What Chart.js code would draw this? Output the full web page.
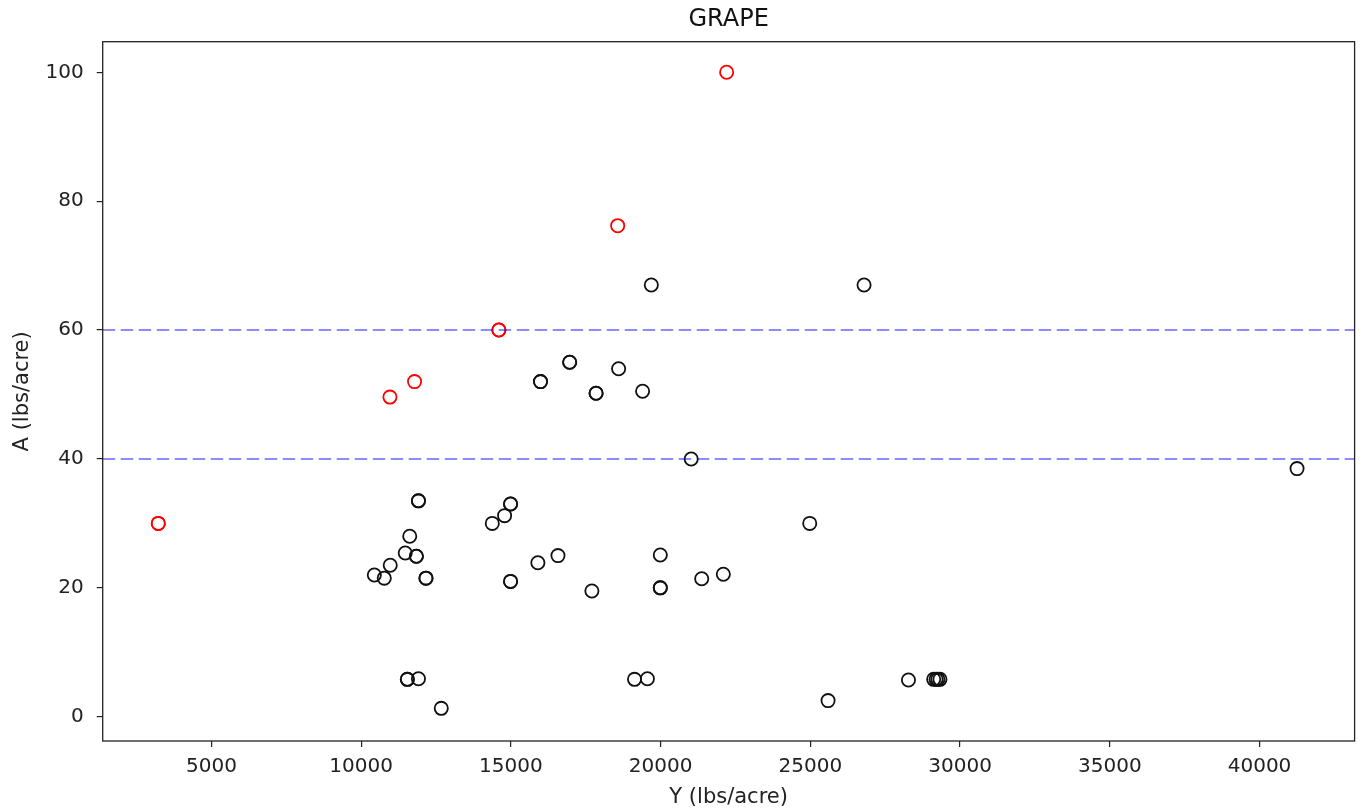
<!DOCTYPE html>
<html>
<head>
<meta charset="utf-8">
<title>GRAPE</title>
<script src="https://cdn.jsdelivr.net/npm/chart.js@4.4.1/dist/chart.umd.min.js"></script>
<style>
body{margin:0;background:#fff;}
canvas{display:block;}
</style>
</head>
<body>
<canvas id="grapeChart" width="1363" height="812"></canvas>
<script>
// Y = yield (lbs/acre), A = applied (lbs/acre)
var blackY = [15990, 15990, 16964, 16964, 18598, 17846, 17846, 19399, 19690, 26794,
              21022, 24980, 16573, 19990, 17706, 19990, 19990, 21373, 22095, 19129,
              19559, 25592, 28277, 29119, 29199, 29259, 29329, 15902, 41253, 11914,
              11914, 11623, 11473, 11844, 11844, 10972, 10441, 10772, 12165, 12165,
              11543, 11543, 11914, 12676, 14379, 14790, 14990, 14990, 14990, 14990];
var blackA = [52, 52, 55, 55, 54, 50.2, 50.2, 50.5, 67, 67,
              40, 30, 25, 25.1, 19.5, 20, 20, 21.4, 22.1, 5.8,
              5.9, 2.5, 5.7, 5.8, 5.8, 5.8, 5.8, 23.9, 38.5, 33.5,
              33.5, 28, 25.4, 24.9, 24.9, 23.5, 22, 21.5, 21.5, 21.5,
              5.8, 5.8, 5.9, 1.3, 30, 31.2, 33, 33, 21, 21];
var redY = [3226, 3226, 10962, 11784, 14600, 14600, 18567, 22205];
var redA = [30, 30, 49.6, 52, 60, 60, 76.2, 100];

var limitLines = [40, 60];
var xTicks = [5000, 10000, 15000, 20000, 25000, 30000, 35000, 40000];
var yTicks = [0, 20, 40, 60, 80, 100];
var xRange = [1370, 43175];
var yRange = [-3.77, 104.75];
var chartTitle = 'GRAPE';

function toPoints(xs, ys)
{
    var pts = [];
    for (var i = 0; i < xs.length; i++) {
        pts.push({x: xs[i], y: ys[i]});
    }
    return pts;
}

var datasets = [];
for (var k = 0; k < limitLines.length; k++) {
    datasets.push({
        type: 'line',
        data: [{x: xRange[0], y: limitLines[k]}, {x: xRange[1], y: limitLines[k]}],
        borderColor: 'rgba(0,0,255,0.6)',
        borderWidth: 1.5,
        borderDash: [12.5, 5.5],
        pointRadius: 0,
        fill: false
    });
}
datasets.push({
    data: toPoints(redY, redA),
    pointRadius: 6.6,
    pointBorderWidth: 1.8,
    pointBorderColor: '#ff0000',
    pointBackgroundColor: 'rgba(0,0,0,0)'
});
datasets.push({
    data: toPoints(blackY, blackA),
    pointRadius: 6.6,
    pointBorderWidth: 1.8,
    pointBorderColor: '#111111',
    pointBackgroundColor: 'rgba(0,0,0,0)'
});

var font = 'DejaVu Sans';

// axes frame on all four sides, title centred over the plot area
var framePlugin = {
    id: 'frame',
    afterDatasetsDraw: function (chart) {
        var a = chart.chartArea;
        var ctx = chart.ctx;
        ctx.save();
        ctx.strokeStyle = '#222';
        ctx.lineWidth = 1.3;
        ctx.strokeRect(a.left, a.top, a.right - a.left, a.bottom - a.top);
        ctx.fillStyle = '#111';
        ctx.font = '24px "' + font + '"';
        ctx.textAlign = 'center';
        ctx.textBaseline = 'middle';
        ctx.fillText(chartTitle, (a.left + a.right) / 2, 20);
        ctx.restore();
    }
};

var ctx = document.getElementById('grapeChart');
var chart = new Chart(ctx, {
    type: 'scatter',
    data: {datasets: datasets},
    options: {
        responsive: false,
        animation: false,
        devicePixelRatio: 1,
        layout: {padding: {left: 0, right: 5, top: 41.7, bottom: 0}},
        plugins: {
            legend: {display: false},
            tooltip: {enabled: false},
            title: {display: false}
        },
        scales: {
            x: {
                type: 'linear',
                min: xRange[0],
                max: xRange[1],
                afterBuildTicks: function (s) { s.ticks = xTicks.map(function (v) { return {value: v}; }); },
                afterFit: function (s) { s.height = 71; s.paddingLeft = 0; s.paddingRight = 0; },
                border: {display: false},
                grid: {drawOnChartArea: false, drawTicks: true, tickLength: 6, color: '#222', lineWidth: 1.2},
                ticks: {
                    color: '#222',
                    padding: 8,
                    maxRotation: 0,
                    font: {family: font, size: 20},
                    callback: function (v) { return String(v); }
                },
                title: {
                    display: true,
                    text: 'Y (lbs/acre)',
                    color: '#222',
                    font: {family: font, size: 21, lineHeight: 1.2},
                    padding: {top: 0, bottom: 1.5}
                }
            },
            y: {
                type: 'linear',
                min: yRange[0],
                max: yRange[1],
                afterBuildTicks: function (s) { s.ticks = yTicks.map(function (v) { return {value: v}; }); },
                afterFit: function (s) { s.width = 102.7; s.paddingTop = 0; s.paddingBottom = 0; },
                border: {display: false},
                grid: {drawOnChartArea: false, drawTicks: true, tickLength: 6, color: '#222', lineWidth: 1.2},
                ticks: {
                    color: '#222',
                    padding: 13,
                    font: {family: font, size: 20},
                    callback: function (v) { return String(v); }
                },
                title: {
                    display: true,
                    text: 'A (lbs/acre)',
                    color: '#222',
                    font: {family: font, size: 21, lineHeight: 1.2},
                    padding: {top: 10, bottom: 0}
                }
            }
        }
    },
    plugins: [framePlugin]
});
</script>
</body>
</html>
